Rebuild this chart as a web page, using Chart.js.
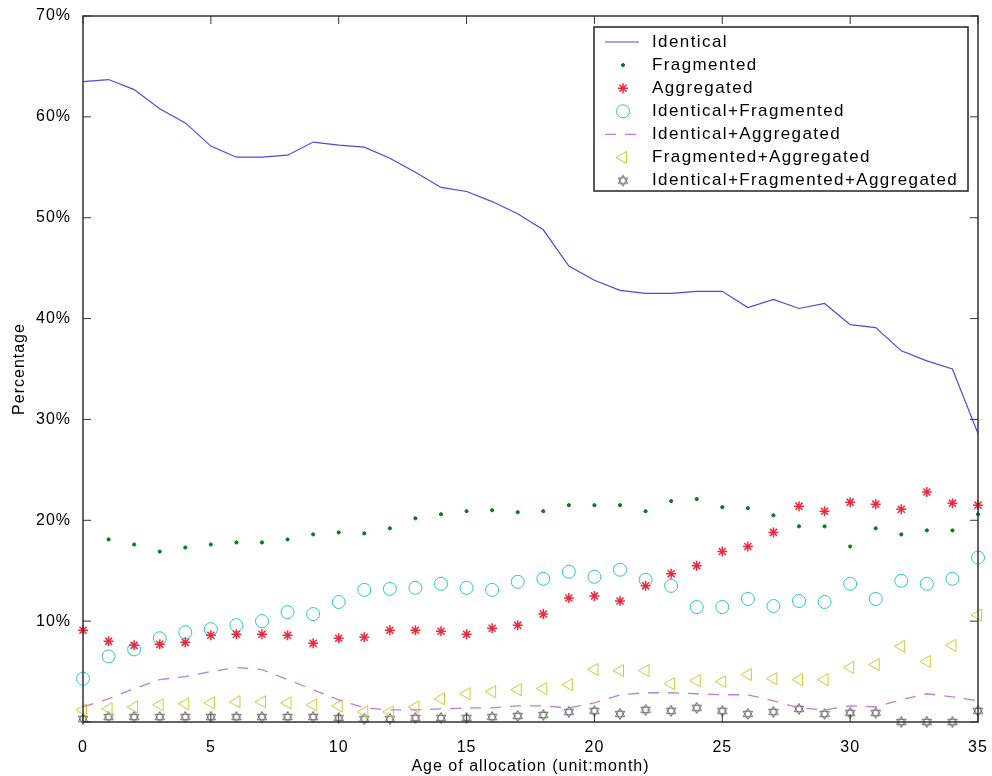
<!DOCTYPE html>
<html>
<head>
<meta charset="utf-8">
<script src="https://cdn.jsdelivr.net/npm/chart.js@4/dist/chart.umd.min.js"></script>
<style>
  html, body { margin: 0; padding: 0; background: #fff; }
  #wrap { width: 992px; height: 776px; }
</style>
</head>
<body>
<div id="wrap"><canvas id="ageChart" width="992" height="776"></canvas></div>
<script>
const months = [0, 1, 2, 3, 4, 5, 6, 7, 8, 9, 10, 11, 12, 13, 14, 15, 16, 17,
  18, 19, 20, 21, 22, 23, 24, 25, 26, 27, 28, 29, 30, 31, 32, 33, 34, 35];
const yTicks = [0, 10, 20, 30, 40, 50, 60, 70];
const xTicks = [0, 5, 10, 15, 20, 25, 30, 35];

const identical = [63.5, 63.7, 62.7, 60.8, 59.4, 57.1, 56.0, 56.0, 56.2, 57.5, 57.2, 57.0,
  55.9, 54.5, 53.0, 52.6, 51.6, 50.4, 48.8, 45.2, 43.8, 42.8, 42.5, 42.5,
  42.7, 42.7, 41.1, 41.9, 41.0, 41.5, 39.4, 39.1, 36.8, 35.8, 35.0, 28.6];
const fragmented = [null, 18.1, 17.6, 16.9, 17.3, 17.6, 17.8, 17.8, 18.1, 18.6, 18.8, 18.7,
  19.2, 20.2, 20.6, 20.9, 21.0, 20.8, 20.9, 21.5, 21.5, 21.5, 20.9, 21.9,
  22.1, 21.3, 21.2, 20.5, 19.4, 19.4, 17.4, 19.2, 18.6, 19.0, 19.0, 20.6];
const aggregated = [9.1, 8.0, 7.6, 7.7, 7.9, 8.6, 8.7, 8.7, 8.6, 7.8, 8.3, 8.4,
  9.1, 9.1, 9.0, 8.7, 9.3, 9.6, 10.7, 12.3, 12.5, 12.0, 13.5, 14.7,
  15.5, 16.9, 17.4, 18.8, 21.4, 20.9, 21.8, 21.6, 21.1, 22.8, 21.7, 21.5];
const identFrag = [4.3, 6.5, 7.2, 8.3, 8.9, 9.2, 9.6, 10.0, 10.9, 10.7, 11.9, 13.1,
  13.2, 13.3, 13.7, 13.3, 13.1, 13.9, 14.2, 14.9, 14.4, 15.1, 14.1, 13.5,
  11.4, 11.4, 12.2, 11.5, 12.0, 11.9, 13.7, 12.2, 14.0, 13.7, 14.2, 16.3];
const identAgg = [1.5, 2.3, 3.3, 4.2, 4.5, 5.0, 5.4, 5.2, 4.2, 3.2, 2.2, 1.4,
  1.2, 1.2, 1.3, 1.4, 1.4, 1.6, 1.6, 1.4, 1.9, 2.7, 2.9, 2.9,
  2.8, 2.7, 2.7, 2.1, 1.4, 1.2, 1.6, 1.5, 2.2, 2.8, 2.5, 2.1];
const fragAgg = [1.2, 1.3, 1.5, 1.7, 1.8, 1.9, 2.0, 2.0, 1.9, 1.7, 1.6, 1.0,
  1.0, 1.5, 2.3, 2.8, 3.0, 3.2, 3.3, 3.7, 5.2, 5.1, 5.1, 3.8,
  4.1, 4.0, 4.7, 4.3, 4.2, 4.2, 5.4, 5.7, 7.5, 6.0, 7.6, 10.6];
const allThree = [0.3, 0.5, 0.5, 0.5, 0.5, 0.5, 0.5, 0.5, 0.5, 0.5, 0.4, 0.3,
  0.3, 0.4, 0.4, 0.4, 0.5, 0.6, 0.7, 1.0, 1.1, 0.8, 1.2, 1.1,
  1.4, 1.1, 0.8, 1.0, 1.3, 0.8, 0.9, 0.9, 0.0, 0.0, 0.0, 1.1];

function pts(values) {
  return values.map((v, i) => ({ x: months[i], y: v }));
}

// hexagram marker (matlab 'h' style)
function hexagram(color) {
  const c = document.createElement('canvas');
  c.width = 14; c.height = 14;
  const g = c.getContext('2d');
  g.strokeStyle = color;
  g.lineWidth = 1;
  const r = 5.5;
  [-Math.PI / 2, Math.PI / 2].forEach(a0 => {
    g.beginPath();
    for (let k = 0; k < 3; k++) {
      const a = a0 + k * 2 * Math.PI / 3;
      const px = 7 + r * Math.cos(a), py = 7 + r * Math.sin(a);
      if (k === 0) g.moveTo(px, py); else g.lineTo(px, py);
    }
    g.closePath();
    g.stroke();
  });
  return c;
}

const FONT = 'Arial, "Liberation Sans", sans-serif';

// the old figure has wide-set lettering
const spacingPlugin = {
  id: 'spacing',
  beforeUpdate(chart) { chart.ctx.letterSpacing = '1px'; },
  beforeDraw(chart) { chart.ctx.letterSpacing = '1px'; }
};

// box + inward ticks on all four sides, legend box top right
const boxPlugin = {
  id: 'box',
  afterDatasetsDraw(chart) {
    const { ctx, chartArea: a, scales } = chart;
    ctx.save();
    ctx.strokeStyle = '#333';
    ctx.lineWidth = 1.5;
    ctx.strokeRect(a.left, a.top, a.right - a.left, a.bottom - a.top);
    ctx.lineWidth = 1;
    ctx.beginPath();
    xTicks.forEach(v => {
      const x = scales.x.getPixelForValue(v);
      ctx.moveTo(x, a.bottom); ctx.lineTo(x, a.bottom - 8);
      ctx.moveTo(x, a.top); ctx.lineTo(x, a.top + 8);
    });
    yTicks.forEach(v => {
      const y = scales.y.getPixelForValue(v);
      ctx.moveTo(a.left, y); ctx.lineTo(a.left + 8, y);
      ctx.moveTo(a.right, y); ctx.lineTo(a.right - 8, y);
    });
    ctx.stroke();
    ctx.restore();
  },
  afterDraw(chart) {
    const { ctx, chartArea: a } = chart;
    const left = a.right - 384, top = a.top + 11, w = 374, h = 164;
    ctx.save();
    ctx.fillStyle = '#fff';
    ctx.fillRect(left, top, w, h);
    ctx.strokeStyle = '#222';
    ctx.lineWidth = 1.5;
    ctx.strokeRect(left, top, w, h);
    ctx.font = '17px ' + FONT;
    ctx.letterSpacing = '1.4px';
    ctx.textBaseline = 'middle';
    chart.data.datasets.forEach((ds, i) => {
      const y = top + 15 + i * 23.1;
      if (ds.showLine) {
        ctx.save();
        ctx.strokeStyle = ds.borderColor;
        ctx.lineWidth = ds.borderWidth;
        ctx.setLineDash(ds.borderDash || []);
        ctx.beginPath();
        ctx.moveTo(left + 11, y); ctx.lineTo(left + 45, y);
        ctx.stroke();
        ctx.restore();
      } else {
        ctx.save();
        ctx.strokeStyle = ds.pointBorderColor;
        ctx.fillStyle = ds.pointBackgroundColor;
        ctx.lineWidth = ds.pointBorderWidth;
        Chart.helpers.drawPoint(ctx, {
          pointStyle: ds.pointStyle, radius: ds.pointRadius,
          rotation: ds.pointRotation || 0, borderWidth: ds.pointBorderWidth
        }, left + 29, y);
        ctx.restore();
      }
      ctx.fillStyle = '#000';
      ctx.fillText(ds.label, left + 58, y);
    });
    ctx.restore();
  }
};

function markers(label, values, color, style, radius, extra) {
  return Object.assign({
    label: label,
    data: pts(values),
    showLine: false,
    pointStyle: style,
    pointRadius: radius,
    pointBorderColor: color,
    pointBackgroundColor: 'rgba(0,0,0,0)',
    pointBorderWidth: 1,
    borderColor: color,
    clip: false
  }, extra || {});
}

new Chart(document.getElementById('ageChart').getContext('2d'), {
  type: 'scatter',
  data: {
    datasets: [
      {
        label: 'Identical',
        data: pts(identical),
        showLine: true,
        borderColor: '#4b4be0',
        borderWidth: 1.2,
        pointRadius: 0
      },
      markers('Fragmented', fragmented, '#0b7a1a', 'circle', 1.6,
        { pointBackgroundColor: '#0b7a1a' }),
      markers('Aggregated', aggregated, '#f0283c', 'star', 5,
        { pointBorderWidth: 1.5 }),
      markers('Identical+Fragmented', identFrag, '#2fc3cc', 'circle', 6.5),
      {
        label: 'Identical+Aggregated',
        data: pts(identAgg),
        showLine: true,
        borderColor: '#c07ed8',
        borderWidth: 1.3,
        borderDash: [11, 9],
        pointRadius: 0
      },
      markers('Fragmented+Aggregated', fragAgg, '#cccc3a', 'triangle', 7,
        { pointRotation: -90 }),
      markers('Identical+Fragmented+Aggregated', allThree, '#6a6a6a', hexagram('#6a6a6a'), 6)
    ]
  },
  options: {
    responsive: false,
    animation: false,
    events: [],
    layout: { padding: { top: 16, right: 14, left: 0, bottom: 0 } },
    plugins: {
      legend: { display: false },
      tooltip: { enabled: false }
    },
    scales: {
      x: {
        type: 'linear',
        min: 0,
        max: 35,
        afterFit: s => { s.height = 54; s.paddingLeft = 0; s.paddingRight = 0; },
        afterBuildTicks: s => { s.ticks = xTicks.map(v => ({ value: v })); },
        grid: { display: false },
        border: { display: false },
        ticks: { color: '#000', padding: 8, font: { size: 16, family: FONT } },
        title: {
          display: true,
          text: 'Age of allocation (unit:month)',
          color: '#000',
          font: { size: 16, family: FONT },
          padding: { top: 1, bottom: 0 }
        }
      },
      y: {
        min: 0,
        max: 70,
        afterFit: s => { s.width = 83; s.paddingTop = 0; s.paddingBottom = 0; },
        afterBuildTicks: s => { s.ticks = yTicks.map(v => ({ value: v })); },
        grid: { display: false },
        border: { display: false },
        ticks: {
          color: '#000',
          padding: 4,
          font: { size: 16, family: FONT },
          callback: v => v === 0 ? '' : v + '%'
        },
        title: {
          display: true,
          text: 'Percentage',
          color: '#000',
          font: { size: 16, family: FONT },
          padding: { top: 10, bottom: 0 }
        }
      }
    }
  },
  plugins: [spacingPlugin, boxPlugin]
});
</script>
</body>
</html>
